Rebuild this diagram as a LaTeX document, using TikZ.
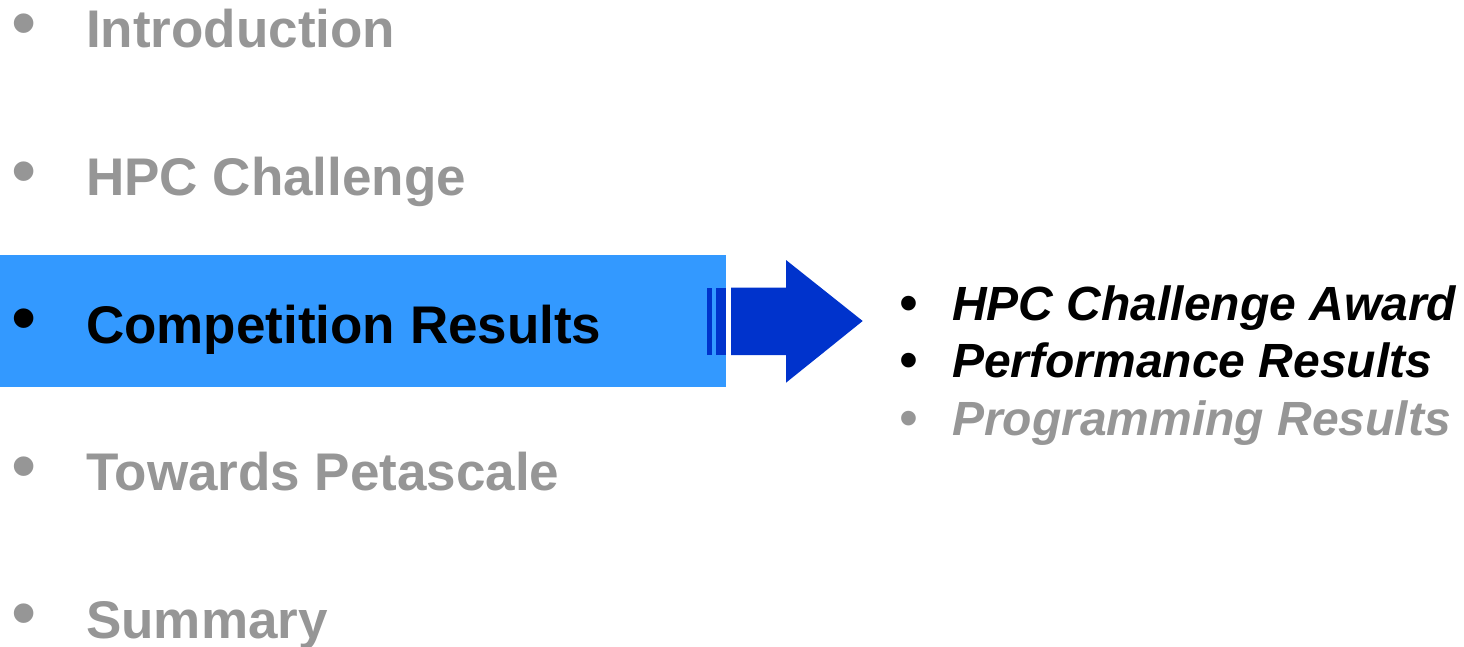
\documentclass[tikz,border=0pt]{standalone}
\usepackage{fontspec}
\setmainfont{Liberation Sans}
\definecolor{dimgray}{HTML}{969696}
\definecolor{hilite}{HTML}{3399FF}
\definecolor{arrowblue}{HTML}{0033CC}
\begin{document}
\begin{tikzpicture}[x=1pt,y=-1pt,
  item/.style={anchor=base west,inner sep=0pt,font=\fontsize{53}{53}\selectfont\bfseries},
  dot/.style={anchor=base,inner sep=0pt,font=\fontsize{72}{72}\selectfont},
  sub/.style={anchor=base west,inner sep=0pt,font=\fontsize{48}{48}\selectfont\bfseries\itshape},
  subdot/.style={anchor=base,inner sep=0pt,font=\fontsize{54}{54}\selectfont}]
\useasboundingbox (0,0) rectangle (1464,646);
% highlighted row
\fill[hilite] (0,255) rectangle (726,387);
% main outline
\node[dot,text=dimgray] (b1) at (23.7,47) {•};
\node[item,text=dimgray] (t1) at (86,47.5) {Introduction};
\node[dot,text=dimgray] (b2) at (23.7,195.3) {•};
\node[item,text=dimgray] (t2) at (86,195.8) {HPC Challenge};
\node[dot,text=black] (b3) at (23.7,342.5) {•};
\node[item,text=black] (t3) at (86,343) {Competition Results};
\node[dot,text=dimgray] (b4) at (23.7,490.2) {•};
\node[item,text=dimgray] (t4) at (86,490.7) {Towards Petascale};
\node[dot,text=dimgray] (b5) at (23.7,637.9) {•};
\node[item,text=dimgray] (t5) at (86,638.4) {Summary};
% block arrow with trailing stripes
\fill[arrowblue] (706.7,287.7) rectangle (712,355);
\fill[arrowblue] (716,287.7) rectangle (726,355);
\fill[arrowblue] (731,287.7) -- (786,287.7) -- (786,260) -- (862.7,321)
  -- (786,382.7) -- (786,355) -- (731,355) -- cycle;
% sub-items
\node[subdot,text=black] (s1b) at (908.7,321.3) {•};
\node[sub,text=black] (s1) at (952,320.7) {HPC Challenge Award};
\node[subdot,text=black] (s2b) at (908.7,378.7) {•};
\node[sub,text=black] (s2) at (952,377.7) {Performance Results};
\node[subdot,text=dimgray] (s3b) at (908.7,436.3) {•};
\node[sub,text=dimgray] (s3) at (952,435.3) {Programming Results};
\end{tikzpicture}
\end{document}
